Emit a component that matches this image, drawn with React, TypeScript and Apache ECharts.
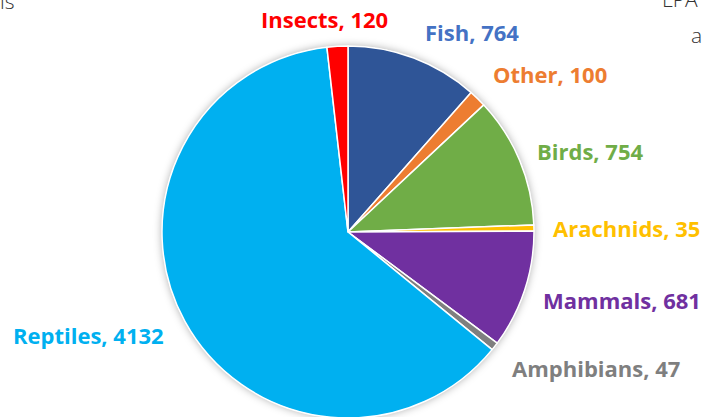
import React, { useEffect, useRef } from "react";
import * as echarts from "echarts";

// Species counts by group
const categories = ["Fish", "Other", "Birds", "Arachnids", "Mammals", "Amphibians", "Reptiles", "Insects"];
const counts = [764, 100, 754, 35, 681, 47, 4132, 120];
const sliceColors = ["#2F5597", "#ED7D31", "#70AD47", "#FFC000", "#7030A0", "#7F7F7F", "#00B0F0", "#FF0000"];
const labelColors = ["#4472C4", "#ED7D31", "#70AD47", "#FFC000", "#7030A0", "#7F7F7F", "#00B0F0", "#FF0000"];

// Label anchor points (left edge, vertical middle)
const labelAnchors: [number, number][] = [
  [425, 32],
  [493, 74],
  [537, 151],
  [553, 228],
  [543, 300],
  [512, 368],
  [13, 335],
  [261, 19],
];

const CX = 348;
const CY = 232;
const R = 186;

export default function App() {
  const ref = useRef<HTMLDivElement>(null);

  useEffect(() => {
    if (!ref.current) return;
    const chart = echarts.init(ref.current, undefined, { renderer: "svg" });
    chart.setOption({
      animation: false,
      backgroundColor: "#ffffff",
      graphic: [
        {
          type: "circle",
          z: -10,
          shape: { cx: CX, cy: CY, r: R },
          style: { fill: "#ffffff", shadowBlur: 8, shadowColor: "rgba(0,0,0,0.35)" },
        },
        {
          type: "text",
          left: 0,
          top: -10,
          style: { text: "is", font: "300 21px 'Open Sans'", fill: "#333333" },
        },
        {
          type: "text",
          left: 662,
          top: -12,
          style: { text: "LPA", font: "300 21px 'Open Sans'", fill: "#333333" },
        },
        {
          type: "text",
          left: 691,
          top: 24,
          style: { text: "a", font: "300 21px 'Open Sans'", fill: "#333333" },
        },
      ],
      series: [
        {
          type: "pie",
          center: [CX, CY],
          radius: [0, R],
          startAngle: 90,
          clockwise: true,
          silent: true,
          itemStyle: { borderColor: "#ffffff", borderWidth: 1.5 },
          label: {
            show: true,
            position: "outside",
            formatter: "{b}, {c}",
            fontFamily: "Open Sans",
            fontWeight: "bold",
            fontSize: 22,
            overflow: "none",
          },
          labelLine: { show: false },
          labelLayout: (params: any) => {
            const p = labelAnchors[params.dataIndex];
            return { x: p[0], y: p[1], align: "left", verticalAlign: "middle" };
          },
          data: categories.map((name, i) => ({
            name,
            value: counts[i],
            itemStyle: { color: sliceColors[i] },
            label: { color: labelColors[i] },
          })),
        },
      ],
    });
    return () => chart.dispose();
  }, []);

  return (
    <div
      ref={ref}
      style={{ position: "fixed", left: 0, top: 0, width: 703, height: 417 }}
    />
  );
}
